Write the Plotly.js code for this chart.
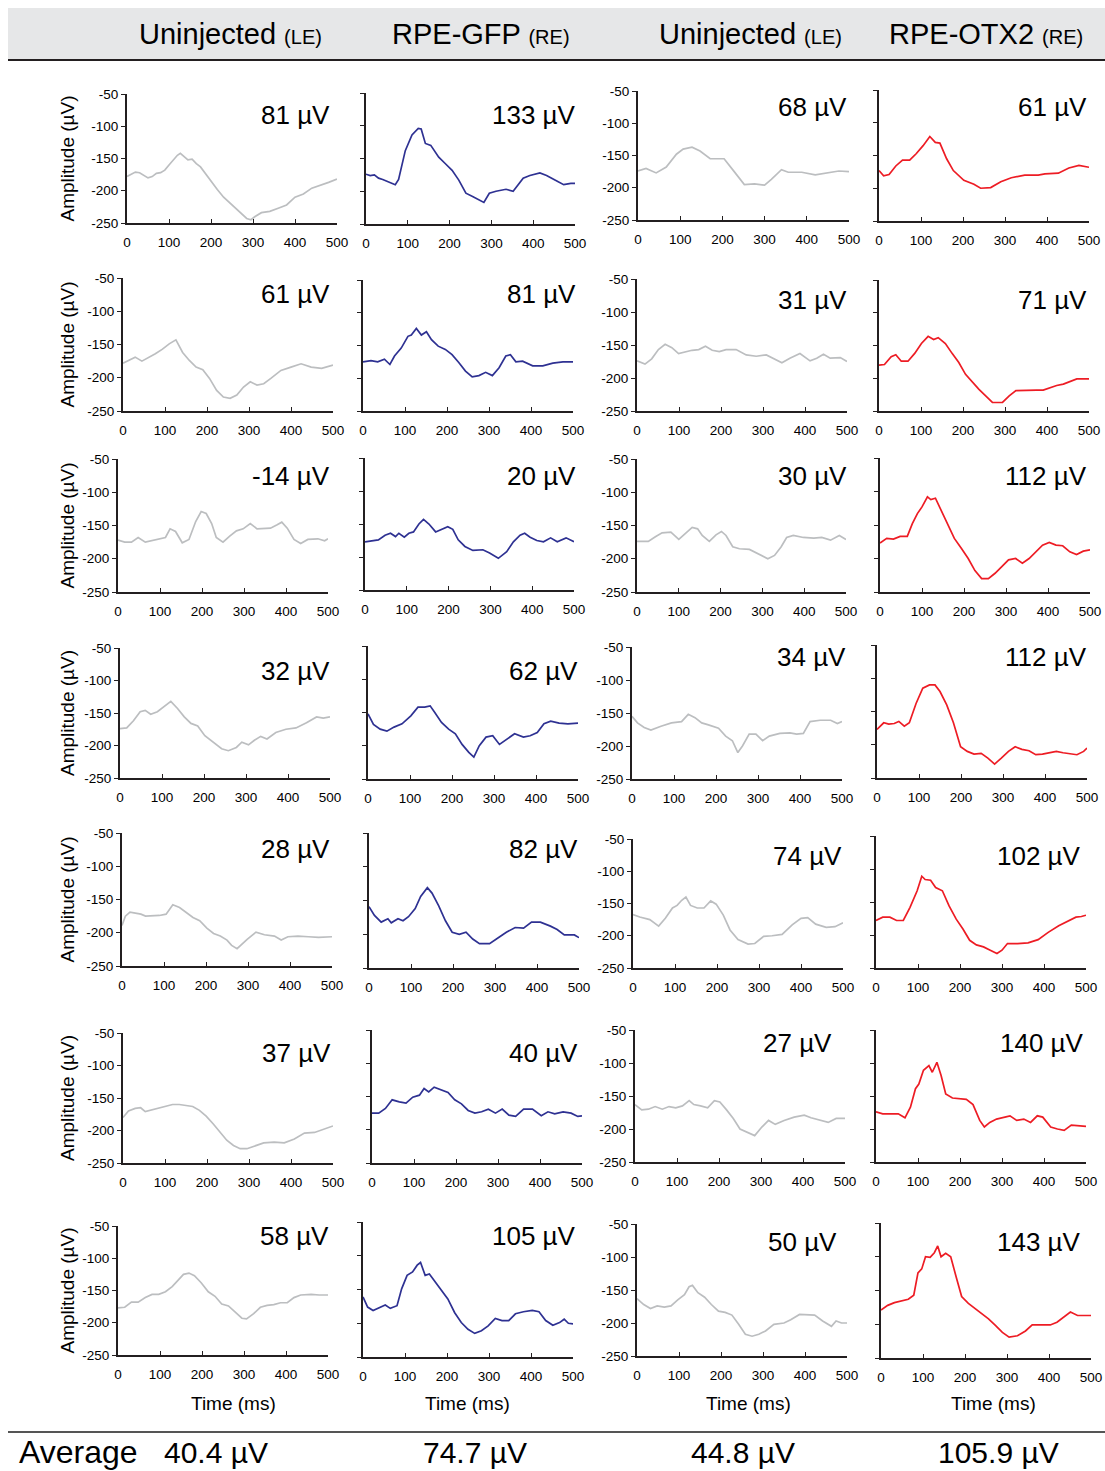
<!DOCTYPE html>
<html>
<head>
<meta charset="utf-8">
<script src="https://cdn.plot.ly/plotly-3.0.1.min.js"></script>
<style>
  html, body { margin: 0; padding: 0; background: #ffffff; }
  #chart { width: 1105px; height: 1471px; }
</style>
</head>
<body>
<div id="chart"></div>
<script>
// ---------------------------------------------------------------
// Recordings: [time (ms), amplitude (µV)] per eye, one array per row
// ---------------------------------------------------------------

// Column 1: uninjected left eyes (RPE-GFP cohort)
const ctrlA1 = [[0,-178],[10,-175],[20,-171],[30,-172],[40,-176],[50,-180],[60,-178],[70,-173],[80,-172],[90,-168],[100,-160],[110,-153],[120,-145],[127,-142],[135,-147],[145,-152],[155,-151],[165,-158],[175,-163],[185,-172],[200,-185],[215,-198],[230,-210],[250,-222],[270,-233],[285,-243],[295,-245],[305,-240],[320,-234],[340,-232],[360,-227],[380,-222],[400,-210],[420,-205],[440,-196],[460,-192],[480,-187],[500,-182]];
const ctrlA2 = [[0,-178],[13,-174],[29,-169],[45,-175],[61,-170],[77,-164],[94,-157],[110,-149],[126,-143],[142,-162],[158,-174],[174,-184],[190,-188],[206,-201],[223,-219],[239,-229],[255,-231],[271,-226],[287,-214],[303,-206],[319,-211],[335,-209],[352,-201],[376,-189],[400,-184],[424,-179],[448,-184],[473,-186],[500,-181]];
const ctrlA3 = [[0,-172],[16,-175],[32,-175],[48,-168],[65,-175],[81,-173],[97,-171],[113,-168],[124,-155],[137,-159],[153,-176],[169,-171],[185,-144],[198,-129],[210,-132],[223,-147],[234,-168],[250,-175],[266,-166],[282,-158],[298,-155],[315,-147],[331,-155],[347,-154],[363,-154],[379,-149],[390,-145],[403,-154],[419,-171],[435,-177],[452,-171],[476,-170],[492,-173],[500,-170]];
const ctrlA4 = [[0,-174],[16,-173],[32,-162],[48,-148],[60,-146],[73,-152],[89,-148],[105,-140],[121,-132],[137,-143],[153,-156],[169,-166],[185,-170],[202,-185],[223,-195],[242,-205],[258,-208],[277,-203],[290,-195],[306,-199],[320,-192],[335,-186],[350,-190],[371,-180],[395,-175],[419,-173],[444,-165],[468,-156],[484,-158],[500,-156]];
const ctrlA5 = [[0,-189],[8,-175],[19,-169],[32,-170],[45,-172],[56,-175],[73,-175],[89,-174],[105,-172],[121,-158],[137,-162],[153,-169],[169,-177],[185,-182],[202,-193],[218,-201],[234,-205],[250,-211],[261,-219],[274,-224],[287,-216],[298,-210],[319,-199],[339,-203],[363,-205],[379,-211],[395,-206],[419,-205],[444,-206],[468,-207],[500,-206]];
const ctrlA6 = [[0,-180],[13,-170],[29,-166],[42,-165],[53,-171],[69,-168],[85,-165],[102,-163],[118,-160],[134,-160],[150,-161],[166,-163],[182,-169],[198,-178],[215,-190],[231,-203],[247,-215],[263,-223],[279,-228],[295,-228],[316,-223],[335,-219],[360,-218],[384,-219],[408,-213],[432,-204],[456,-203],[477,-198],[500,-193]];
const ctrlA7 = [[0,-177],[16,-176],[32,-168],[48,-168],[65,-161],[81,-156],[97,-156],[113,-152],[129,-144],[145,-132],[156,-125],[169,-123],[182,-127],[198,-138],[215,-152],[231,-159],[247,-171],[263,-174],[279,-184],[295,-193],[306,-194],[323,-186],[339,-176],[355,-173],[371,-172],[387,-169],[403,-169],[419,-161],[435,-157],[460,-156],[479,-157],[500,-157]];

// Column 2: RPE-GFP injected right eyes
const gfp1 = [[0,-174],[10,-176],[20,-175],[30,-180],[40,-182],[50,-185],[60,-188],[70,-190],[78,-182],[86,-160],[94,-138],[110,-114],[125,-104],[132,-105],[142,-127],[155,-130],[174,-148],[190,-158],[206,-168],[222,-183],[239,-203],[255,-208],[271,-213],[282,-217],[295,-203],[311,-200],[335,-197],[352,-200],[376,-180],[392,-176],[416,-172],[432,-176],[452,-183],[473,-190],[490,-188],[500,-188]];
const gfp2 = [[0,-175],[19,-173],[35,-175],[51,-171],[64,-179],[75,-166],[91,-154],[107,-136],[115,-134],[127,-124],[139,-134],[151,-129],[163,-141],[179,-151],[196,-156],[212,-164],[228,-176],[244,-189],[260,-198],[276,-196],[292,-191],[308,-196],[324,-184],[340,-166],[351,-164],[364,-175],[380,-174],[404,-181],[428,-181],[452,-177],[476,-175],[500,-175]];
const gfp3 = [[0,-177],[16,-176],[32,-174],[48,-167],[61,-164],[73,-169],[81,-164],[94,-170],[105,-164],[116,-162],[129,-150],[140,-143],[153,-150],[169,-162],[185,-157],[198,-154],[210,-158],[223,-174],[239,-184],[258,-190],[282,-189],[298,-194],[319,-202],[339,-192],[355,-177],[371,-167],[382,-164],[395,-170],[411,-175],[427,-177],[444,-171],[460,-177],[481,-171],[500,-177]];
const gfp4 = [[0,-152],[13,-168],[29,-175],[45,-178],[62,-172],[81,-167],[102,-155],[119,-142],[135,-142],[148,-140],[159,-150],[175,-165],[192,-175],[208,-182],[224,-198],[240,-210],[252,-217],[265,-200],[281,-187],[297,-185],[313,-198],[330,-191],[349,-182],[370,-187],[386,-185],[403,-180],[419,-167],[435,-163],[455,-166],[476,-167],[500,-166]];
const gfp5 = [[0,-159],[13,-172],[29,-182],[45,-177],[53,-183],[69,-177],[81,-180],[94,-174],[110,-162],[123,-144],[139,-131],[150,-139],[166,-158],[182,-180],[198,-197],[215,-200],[231,-197],[247,-207],[263,-214],[287,-214],[306,-206],[327,-197],[348,-190],[368,-191],[387,-182],[408,-182],[432,-188],[448,-193],[465,-201],[489,-201],[500,-205]];
const gfp6 = [[0,-175],[16,-175],[32,-168],[48,-155],[65,-158],[81,-160],[97,-151],[113,-148],[124,-138],[135,-143],[148,-136],[165,-140],[181,-144],[197,-155],[213,-161],[229,-171],[245,-175],[261,-173],[277,-169],[294,-175],[310,-169],[326,-178],[342,-180],[361,-169],[382,-169],[403,-179],[419,-173],[435,-176],[455,-173],[474,-175],[490,-180],[500,-179]];
const gfp7 = [[0,-161],[11,-176],[24,-181],[40,-176],[53,-173],[65,-178],[81,-174],[92,-149],[105,-129],[118,-124],[129,-114],[137,-110],[148,-129],[158,-127],[169,-136],[185,-149],[202,-164],[218,-184],[234,-199],[250,-209],[266,-215],[282,-211],[298,-204],[315,-193],[331,-196],[347,-196],[363,-186],[382,-183],[403,-181],[419,-183],[435,-196],[452,-203],[468,-199],[479,-194],[489,-200],[500,-201]];

// Column 3: uninjected left eyes (RPE-OTX2 cohort)
const ctrlB1 = [[0,-174],[19,-170],[43,-177],[67,-168],[91,-148],[107,-140],[128,-137],[147,-143],[171,-155],[204,-155],[228,-175],[252,-195],[276,-194],[300,-196],[316,-187],[340,-172],[356,-176],[388,-176],[420,-180],[452,-177],[476,-174],[500,-175]];
const ctrlB2 = [[0,-174],[19,-179],[35,-171],[51,-157],[67,-149],[83,-154],[99,-163],[115,-160],[131,-158],[147,-157],[163,-152],[179,-158],[196,-160],[212,-157],[236,-157],[260,-165],[284,-167],[308,-165],[324,-170],[345,-177],[364,-170],[388,-163],[412,-174],[428,-170],[444,-164],[460,-170],[484,-169],[500,-175]];
const ctrlB3 = [[0,-174],[27,-174],[44,-167],[60,-161],[81,-160],[100,-171],[116,-162],[132,-153],[145,-155],[156,-165],[173,-174],[189,-164],[202,-159],[213,-165],[229,-182],[245,-185],[269,-186],[294,-194],[313,-200],[329,-195],[345,-182],[358,-168],[374,-165],[398,-168],[423,-169],[442,-168],[463,-172],[484,-165],[500,-171]];
const ctrlB4 = [[0,-155],[13,-165],[29,-172],[45,-176],[69,-170],[94,-165],[118,-163],[134,-152],[150,-157],[166,-165],[182,-168],[206,-173],[223,-185],[239,-192],[252,-210],[263,-200],[279,-182],[295,-182],[311,-192],[327,-185],[352,-181],[376,-180],[392,-182],[408,-181],[424,-163],[448,-161],[473,-161],[489,-166],[500,-163]];
const ctrlB5 = [[0,-167],[16,-171],[40,-175],[61,-185],[77,-173],[94,-157],[105,-153],[116,-145],[126,-140],[137,-153],[153,-157],[169,-157],[185,-146],[198,-151],[215,-168],[231,-191],[250,-206],[274,-213],[290,-212],[311,-201],[331,-200],[355,-198],[379,-183],[400,-173],[416,-172],[435,-182],[460,-187],[481,-186],[500,-180]];
const ctrlB6 = [[0,-163],[16,-171],[32,-170],[48,-166],[65,-170],[81,-166],[97,-168],[113,-165],[129,-157],[140,-163],[156,-165],[173,-168],[189,-157],[202,-159],[218,-171],[234,-184],[250,-200],[266,-205],[285,-210],[302,-197],[318,-187],[334,-193],[355,-187],[379,-182],[403,-179],[419,-183],[444,-187],[460,-190],[479,-184],[500,-184]];
const ctrlB7 = [[0,-163],[16,-172],[32,-178],[48,-174],[65,-176],[81,-174],[97,-165],[113,-157],[124,-145],[132,-143],[145,-154],[161,-161],[177,-172],[194,-182],[210,-184],[226,-188],[242,-202],[258,-217],[274,-220],[290,-217],[306,-212],[326,-202],[350,-200],[366,-195],[387,-187],[406,-187],[423,-188],[442,-197],[463,-205],[474,-197],[487,-200],[500,-200]];

// Column 4: RPE-OTX2 injected right eyes
const otx1 = [[0,-173],[11,-181],[24,-179],[40,-166],[56,-157],[73,-157],[89,-147],[105,-135],[121,-121],[134,-130],[145,-131],[161,-155],[177,-173],[202,-188],[226,-194],[242,-200],[266,-199],[290,-190],[315,-184],[347,-180],[379,-180],[395,-178],[427,-177],[452,-169],[476,-165],[500,-168]];
const otx2 = [[0,-180],[13,-179],[29,-167],[40,-164],[53,-174],[69,-174],[85,-162],[101,-147],[117,-136],[130,-141],[141,-138],[158,-147],[174,-162],[190,-176],[206,-194],[222,-206],[238,-217],[254,-227],[270,-237],[294,-237],[310,-227],[326,-219],[350,-218],[375,-218],[391,-218],[407,-214],[423,-211],[439,-209],[455,-205],[471,-201],[487,-201],[500,-201]];
const otx3 = [[0,-177],[16,-170],[32,-171],[48,-167],[65,-167],[77,-148],[89,-133],[100,-123],[113,-108],[121,-112],[132,-110],[145,-128],[161,-148],[177,-170],[194,-185],[210,-200],[226,-218],[242,-230],[258,-230],[274,-222],[290,-212],[306,-202],[323,-200],[339,-207],[355,-200],[371,-190],[387,-180],[403,-176],[419,-180],[435,-181],[452,-190],[468,-194],[484,-189],[500,-187]];
const otx4 = [[0,-177],[16,-167],[28,-169],[41,-168],[52,-165],[65,-172],[77,-167],[93,-138],[109,-115],[125,-110],[138,-110],[150,-120],[166,-140],[182,-167],[199,-203],[215,-210],[231,-214],[248,-213],[264,-220],[280,-229],[296,-220],[313,-210],[329,-203],[345,-207],[362,-209],[378,-215],[394,-214],[410,-212],[427,-210],[443,-212],[459,-214],[476,-215],[492,-210],[500,-205]];
const otx5 = [[0,-178],[16,-173],[33,-173],[49,-178],[65,-178],[81,-158],[98,-133],[109,-111],[117,-116],[130,-117],[142,-128],[158,-133],[174,-156],[191,-176],[207,-191],[223,-208],[239,-215],[256,-218],[272,-223],[288,-228],[300,-223],[313,-213],[337,-213],[362,-212],[386,-207],[410,-196],[435,-186],[459,-178],[476,-173],[489,-172],[500,-170]];
const otx6 = [[0,-174],[16,-177],[37,-177],[53,-177],[69,-183],[82,-167],[94,-139],[102,-132],[113,-111],[126,-104],[134,-114],[145,-99],[155,-119],[166,-147],[182,-153],[198,-154],[215,-155],[231,-163],[247,-187],[258,-197],[271,-190],[287,-185],[303,-182],[319,-180],[335,-187],[352,-185],[368,-190],[384,-180],[397,-182],[416,-197],[432,-200],[448,-202],[465,-194],[481,-195],[500,-196]];
const otx7 = [[0,-179],[16,-172],[32,-168],[49,-165],[65,-163],[78,-157],[88,-124],[97,-118],[106,-100],[117,-101],[127,-94],[135,-84],[143,-100],[154,-95],[166,-100],[179,-130],[192,-159],[208,-169],[224,-177],[240,-184],[256,-192],[273,-202],[289,-212],[305,-219],[325,-217],[344,-210],[360,-201],[381,-201],[403,-201],[419,-197],[435,-189],[451,-182],[468,-187],[484,-187],[500,-187]];

// Amplitudes printed on each panel (µV), per column
const ampCtrlA = [81, 61, -14, 32, 28, 37, 58];
const ampGfp   = [133, 81, 20, 62, 82, 40, 105];
const ampCtrlB = [68, 31, 30, 34, 74, 27, 50];
const ampOtx   = [61, 71, 112, 112, 102, 140, 143];

// Group means (µV)
const averages = [40.4, 74.7, 44.8, 105.9];

// Column headings
const headMain = ['Uninjected', 'RPE-GFP', 'Uninjected', 'RPE-OTX2'];
const headEye  = ['(LE)', '(RE)', '(LE)', '(RE)'];

// Axis ticks (amplitude labels use a plain hyphen)
const timeTicks = [0, 100, 200, 300, 400, 500];
const ampTicks  = [-250, -200, -150, -100, -50];
const ampTickText = ['-250', '-200', '-150', '-100', '-50'];

// ---------------------------------------------------------------
// Page geometry (pixels)
// ---------------------------------------------------------------
const W = 1105, H = 1471;
const FONT = '"Liberation Sans", Arial, Helvetica, sans-serif';

// Plot boxes per row/column: [left, right, top(-50), bottom(-250)]
const PANELS = [
  [[127,337,94,223],  [366,575,93,224],  [638,849,91,220],  [879,1089,90,221]],
  [[123,333,278,411], [363,573,280,411], [637,847,279,411], [879,1089,280,411]],
  [[118,328,459,592], [365,574,458,590], [637,846,459,592], [880,1090,458,592]],
  [[120,330,648,778], [368,578,646,779], [632,842,647,779], [877,1087,645,778]],
  [[122,332,833,966], [369,579,833,968], [633,843,839,968], [876,1086,836,968]],
  [[123,333,1033,1163],[372,582,1030,1163],[635,845,1030,1162],[876,1086,1030,1162]],
  [[118,328,1226,1355],[363,573,1222,1357],[637,847,1224,1356],[881,1091,1223,1358]]
];

// Right edge / vertical centre of each amplitude label
const AMP_POS = [
  [[332,115],[578,115],[849,107],[1089,107]],
  [[332,294],[578,294],[849,300],[1089,300]],
  [[332,476],[578,476],[849,476],[1089,476]],
  [[332,671],[580,671],[848,657],[1089,657]],
  [[332,849],[580,849],[844,856],[1083,856]],
  [[333,1053],[580,1053],[834,1043],[1086,1043]],
  [[331,1236],[578,1236],[839,1242],[1083,1242]]
];

const HEAD_X = [230, 481, 750, 986];
const TIME_X = [233, 467, 748, 993];
const AVG_X  = [216, 475, 743, 998];

const columns = [
  { rows: [ctrlA1, ctrlA2, ctrlA3, ctrlA4, ctrlA5, ctrlA6, ctrlA7], amps: ampCtrlA, color: '#bcbec0', labels: true },
  { rows: [gfp1, gfp2, gfp3, gfp4, gfp5, gfp6, gfp7],               amps: ampGfp,   color: '#2e3192', labels: false },
  { rows: [ctrlB1, ctrlB2, ctrlB3, ctrlB4, ctrlB5, ctrlB6, ctrlB7], amps: ampCtrlB, color: '#bcbec0', labels: true },
  { rows: [otx1, otx2, otx3, otx4, otx5, otx6, otx7],               amps: ampOtx,   color: '#ed1c24', labels: false }
];

const px = v => v / W;
const py = v => 1 - v / H;

const traces = [];
const annotations = [];
const layout = {
  width: W, height: H,
  margin: { l: 0, r: 0, t: 0, b: 0 },
  paper_bgcolor: '#ffffff',
  plot_bgcolor: 'rgba(0,0,0,0)',
  showlegend: false,
  font: { family: FONT, color: '#000000' },
  shapes: [
    // heading band
    { type: 'rect', xref: 'paper', yref: 'paper', x0: px(8), x1: 1, y0: py(60), y1: py(8),
      fillcolor: '#e6e7e8', line: { width: 0 }, layer: 'below' },
    { type: 'line', xref: 'paper', yref: 'paper', x0: px(8), x1: 1, y0: py(60), y1: py(60),
      line: { color: '#231f20', width: 2 } },
    // rule above the averages
    { type: 'line', xref: 'paper', yref: 'paper', x0: px(8), x1: 1, y0: py(1432), y1: py(1432),
      line: { color: '#555555', width: 2 } }
  ]
};

for (let r = 0; r < 7; r++) {
  for (let c = 0; c < 4; c++) {
    const n = r * 4 + c + 1;
    const sfx = n === 1 ? '' : String(n);
    const [x0, x1, y0, y1] = PANELS[r][c];
    const col = columns[c];
    const pts = col.rows[r];

    traces.push({
      type: 'scatter', mode: 'lines',
      x: pts.map(p => p[0]), y: pts.map(p => p[1]),
      xaxis: 'x' + sfx, yaxis: 'y' + sfx,
      line: { color: col.color, width: 1.7, shape: 'linear' },
      hoverinfo: 'skip'
    });

    layout['xaxis' + sfx] = {
      domain: [px(x0), px(x1)], range: [0, 500], anchor: 'y' + sfx,
      tickvals: timeTicks, ticks: 'inside', ticklen: 4, tickcolor: '#231f20', tickwidth: 1,
      ticklabelstandoff: 6,
      tickfont: { size: 13.5, family: FONT, color: '#000' },
      showline: true, linecolor: '#231f20', linewidth: 2,
      showgrid: false, zeroline: false, fixedrange: true
    };
    layout['yaxis' + sfx] = {
      domain: [py(y1), py(y0)], range: [-250, -50], anchor: 'x' + sfx,
      tickvals: ampTicks, ticktext: ampTickText,
      ticks: 'outside', ticklen: 4, tickcolor: '#231f20', tickwidth: 1,
      showticklabels: col.labels,
      tickfont: { size: 13.5, family: FONT, color: '#000' },
      showline: true, linecolor: '#231f20', linewidth: 2,
      showgrid: false, zeroline: false, fixedrange: true
    };

    const [ax, ay] = AMP_POS[r][c];
    annotations.push({
      xref: 'paper', yref: 'paper', x: px(ax), y: py(ay),
      xanchor: 'right', yanchor: 'middle', showarrow: false,
      text: col.amps[r] + ' µV', font: { size: 26, family: FONT, color: '#000' }
    });

    if (c === 0) {
      annotations.push({
        xref: 'paper', yref: 'paper', x: px(67), y: py((y0 + y1) / 2),
        xanchor: 'center', yanchor: 'middle', showarrow: false, textangle: -90,
        text: 'Amplitude (µV)', font: { size: 19, family: FONT, color: '#000' }
      });
    }
  }
}

for (let c = 0; c < 4; c++) {
  annotations.push({
    xref: 'paper', yref: 'paper', x: px(HEAD_X[c]), y: py(34),
    xanchor: 'center', yanchor: 'middle', showarrow: false,
    text: headMain[c] + ' <span style="font-size:20px">' + headEye[c] + '</span>',
    font: { size: 29, family: FONT, color: '#000' }
  });
  annotations.push({
    xref: 'paper', yref: 'paper', x: px(TIME_X[c]), y: py(1403),
    xanchor: 'center', yanchor: 'middle', showarrow: false,
    text: 'Time (ms)', font: { size: 19, family: FONT, color: '#000' }
  });
  annotations.push({
    xref: 'paper', yref: 'paper', x: px(AVG_X[c]), y: py(1452),
    xanchor: 'center', yanchor: 'middle', showarrow: false,
    text: averages[c].toFixed(1) + ' µV', font: { size: 30, family: FONT, color: '#000' }
  });
}
annotations.push({
  xref: 'paper', yref: 'paper', x: px(17), y: py(1452),
  xanchor: 'left', yanchor: 'middle', showarrow: false,
  text: 'Average', font: { size: 32, family: FONT, color: '#000' }
});

layout.annotations = annotations;

Plotly.newPlot('chart', traces, layout, { displayModeBar: false, staticPlot: true });
</script>
</body>
</html>
